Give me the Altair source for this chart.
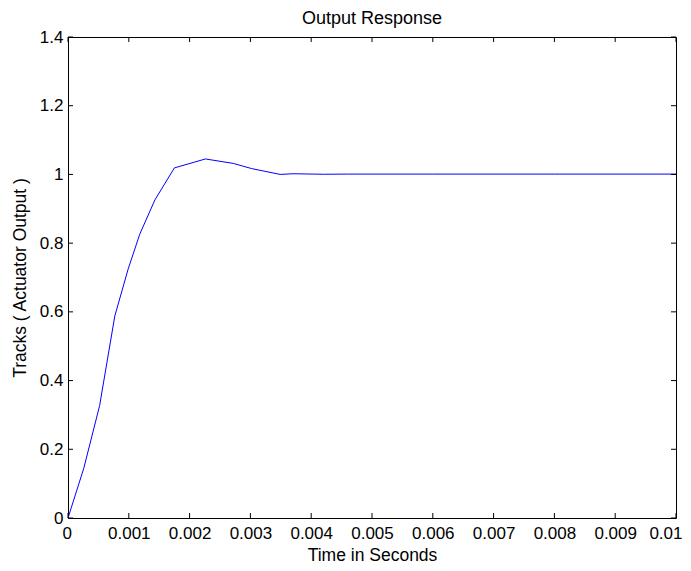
import altair as alt
import pandas as pd

# data
time_s = [0, 0.00026, 0.00052, 0.00077, 0.00099, 0.00118, 0.00143, 0.00175,
          0.00226, 0.00272, 0.00302, 0.00349, 0.0037, 0.0042, 0.0046, 0.006, 0.008, 0.01]
output = [0, 0.145, 0.327, 0.588, 0.725, 0.826, 0.926, 1.019,
          1.045, 1.032, 1.017, 1.000, 1.002, 1.0005, 1.001, 1.001, 1.001, 1.001]
x_ticks = [0, 0.001, 0.002, 0.003, 0.004, 0.005, 0.006, 0.007, 0.008, 0.009, 0.01]
y_ticks = [0, 0.2, 0.4, 0.6, 0.8, 1.0, 1.2, 1.4]

W, H = 608, 481
TL = 5
FONT = "Liberation Sans"

df = pd.DataFrame({"t": time_s, "y": output})
dfx = pd.DataFrame({"t": x_ticks})
dfy = pd.DataFrame({"y": y_ticks})

xscale = alt.Scale(domain=[0, 0.01], nice=False, zero=False)
yscale = alt.Scale(domain=[0, 1.4], nice=False, zero=False)

xaxis = alt.Axis(title="Time in Seconds", values=x_ticks, tickSize=0,
                 domain=False, grid=False, labelPadding=7,
                 labelExpr="datum.value == 0 ? '0' : format(datum.value, '.3~f')",
                 labelFlush=True, labelFlushOffset=6, labelOverlap=False,
                 titlePadding=5)
yaxis = alt.Axis(title="Tracks ( Actuator Output )", values=y_ticks, tickSize=0,
                 domain=False, grid=False, labelPadding=5,
                 labelExpr="format(datum.value, '.1~f')",
                 labelFlush=False, labelOverlap=False, titlePadding=10)

X = alt.X("t:Q", scale=xscale, axis=xaxis)
Y = alt.Y("y:Q", scale=yscale, axis=yaxis)

line = alt.Chart(df).mark_line(color="#0000ff", strokeWidth=1).encode(x=X, y=Y)

tick_style = dict(color="black", strokeWidth=1)
bottom = alt.Chart(dfx).mark_rule(**tick_style).encode(
    x=X, y=alt.value(H), y2=alt.value(H - TL))
top = alt.Chart(dfx).mark_rule(**tick_style).encode(
    x=X, y=alt.value(0), y2=alt.value(TL))
left = alt.Chart(dfy).mark_rule(**tick_style).encode(
    y=Y, x=alt.value(0), x2=alt.value(TL))
right = alt.Chart(dfy).mark_rule(**tick_style).encode(
    y=Y, x=alt.value(W), x2=alt.value(W - TL))

chart = alt.layer(line, bottom, top, left, right).properties(
    width=W, height=H,
    background="white",
    title=alt.TitleParams("Output Response", font=FONT, fontSize=18,
                          fontWeight="normal", offset=0, color="black"),
    padding={"left": 60, "top": 29, "right": 7, "bottom": 45},
    autosize=alt.AutoSizeParams(type="none"),
).configure_view(stroke="black", strokeWidth=1).configure_axis(
    labelFont=FONT, labelFontSize=17, labelColor="black",
    titleFont=FONT, titleFontSize=17.5, titleFontWeight="normal", titleColor="black",
)

chart.save("out.html", embed_options={"renderer": "svg", "actions": False})
